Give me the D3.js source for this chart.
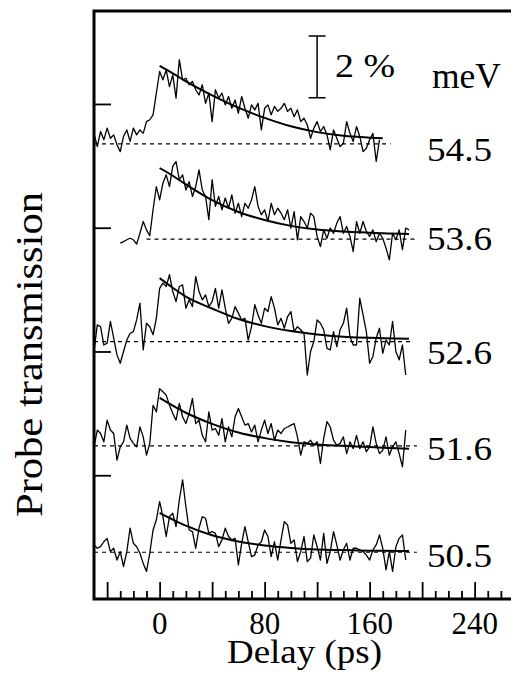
<!DOCTYPE html>
<html>
<head>
<meta charset="utf-8">
<script src="https://cdn.jsdelivr.net/npm/d3@7"></script>
<style>
  body { margin: 0; background: #fff; }
  svg { display: block; }
  text { font-family: "Liberation Serif", "Times New Roman", serif; fill: #000; }
</style>
</head>
<body>
<script>
// delay grid (ps) shared by every trace
const delays = [-50,-47.5,-45,-42.5,-40,-37.5,-35,-32.5,-30,-27.5,-25,-22.5,-20,-17.5,-15,-12.5,-10,-7.5,-5,-2.5,
  0,2.5,5,7.5,10,12.5,15,17.5,20,22.5,25,27.5,30,32.5,35,37.5,40,42.5,45,47.5,
  50,52.5,55,57.5,60,62.5,65,67.5,70,72.5,75,77.5,80,82.5,85,87.5,90,92.5,95,97.5,
  100,102.5,105,107.5,110,112.5,115,117.5,120,122.5,125,127.5,130,132.5,135,137.5,140,142.5,145,147.5,
  150,152.5,155,157.5,160,162.5,165,167.5,170,172.5,175,177.5,180,182.5,185,187.5,190];

const energies = ["54.5", "53.6", "52.6", "51.6", "50.5"];
// vertical offset of each trace (in %)
const offsets = [14.71, 11.63, 8.32, 4.95, 1.51];
// dashed zero line extent (ps)
const baseStart = [-50, -10, -50, -50, -50];
const baseEnd = [176, 196, 192, 196, 196];

// transmission change (%) above each zero line
const trace545 = [0.34,-0.09,0.40,0.13,0.51,0.18,0.29,-0.03,-0.25,0.24,
  0.45,0.08,0.51,0.29,0.45,0.34,0.72,0.78,0.94,1.64,
  2.34,2.07,2.39,1.85,2.23,1.48,2.72,2.07,2.12,1.91,
  2.02,1.75,1.58,1.91,1.31,1.64,0.72,1.75,1.48,1.64,
  1.26,1.53,1.15,1.42,0.99,1.53,1.15,0.83,1.26,1.10,
  1.31,0.45,1.15,1.26,0.94,1.21,1.05,1.15,1.31,1.05,
  1.15,0.88,1.10,0.72,0.83,0.61,0.18,0.51,0.72,0.40,
  0.56,0.29,-0.19,0.45,0.18,-0.09,0.02,0.72,0.34,0.08,
  0.56,0.24,-0.25,-0.14,0.13,0.34,-0.57,0.13];

const trace536 = [null,null,null,null,null,null,null,null,-0.13,
  -0.08,-0.02,0.03,-0.02,-0.16,0.19,0.57,0.30,0.11,0.95,
  1.70,1.27,1.81,2.08,1.70,2.35,2.51,1.92,2.08,1.59,
  1.86,1.38,1.70,2.24,1.59,1.38,0.63,1.92,1.06,1.38,
  0.95,1.33,1.00,1.43,0.84,1.16,0.73,1.16,1.00,1.27,
  1.70,1.06,0.79,0.95,0.57,1.16,0.79,1.00,0.84,0.63,
  0.95,0.36,0.89,-0.02,0.73,0.57,0.36,0.84,0.73,0.09,
  -0.24,0.30,0.03,0.36,0.19,0.52,0.73,0.19,0.41,0.09,
  -0.40,0.57,0.19,0.57,0.25,0.09,0.30,-0.08,0.19,0.03,
  -0.29,-0.67,0.19,-0.02,0.30,-0.34,0.36,0.30];

const trace526 = [-0.32,0.54,0.48,-0.11,-0.05,0.65,0.11,-0.43,-0.70,-0.32,
  0.05,0.27,0.32,0.70,1.24,-0.27,0.59,0.48,0.22,0.75,
  1.72,1.89,1.78,2.16,1.62,1.29,1.78,1.83,1.08,1.35,
  1.13,2.10,1.62,1.35,1.51,1.13,1.29,1.72,1.08,1.67,
  1.08,0.59,0.75,1.13,0.92,0.70,0.75,0.05,0.48,1.19,
  0.86,0.59,1.08,0.97,1.45,1.08,0.54,0.75,0.43,0.81,
  0.97,0.32,0.48,0.38,0.27,-1.08,-0.32,0.00,0.70,0.59,
  0.38,-0.22,-0.27,0.32,-0.16,0.38,0.59,1.08,0.16,-0.11,
  -0.11,1.40,0.86,0.32,-0.70,-0.48,0.11,0.43,-0.38,0.05,
  -0.11,0.65,-0.32,-0.59,-0.11,-1.08];

const trace516 = [-0.03,0.51,0.40,0.13,0.83,0.51,0.40,-0.46,-0.03,0.13,
  0.67,0.24,0.08,-0.03,0.61,0.29,-0.30,0.08,1.31,1.10,
  1.85,1.75,1.64,1.31,1.05,0.83,1.37,0.94,0.72,1.05,
  1.53,0.72,0.83,0.34,0.13,1.10,0.51,0.56,0.34,0.88,
  0.13,0.61,0.29,0.94,1.21,0.94,0.67,0.72,0.45,0.67,
  0.13,0.51,0.83,0.40,0.72,0.18,0.51,0.40,0.56,0.61,
  0.67,0.72,0.29,-0.30,0.13,0.08,0.18,0.02,0.13,-0.57,
  0.24,0.78,0.61,0.18,0.02,0.08,0.29,-0.25,0.13,-0.09,
  0.34,-0.09,0.13,-0.19,-0.03,0.61,0.08,-0.25,-0.14,0.29,
  -0.30,-0.03,0.13,-0.25,-0.68,0.51];

const trace505 = [0.24,0.13,0.18,0.34,0.45,0.02,0.13,-0.25,0.02,-0.46,
  0.02,0.78,0.29,0.18,-0.03,-0.36,-0.62,-0.03,0.72,1.05,
  1.64,1.15,0.51,1.15,1.26,0.83,1.69,2.34,1.48,0.72,
  0.67,0.13,0.78,1.15,1.10,0.61,0.67,0.61,0.18,0.40,
  0.78,0.51,0.40,0.45,-0.41,0.29,0.83,0.34,-0.14,-0.09,
  0.24,0.34,0.72,0.51,-0.14,0.34,-0.25,0.40,0.99,0.88,
  0.29,0.40,-0.30,0.02,0.51,-0.30,-0.19,0.56,0.18,-0.25,
  0.61,-0.36,0.02,0.67,0.24,-0.25,0.08,0.29,-0.25,0.13,
  0.13,0.08,0.02,-0.09,-0.25,0.08,0.24,0.56,0.13,-0.57,
  0.02,-0.62,0.18,0.45,0.56,-0.25];

// decay fits, read at these delays
const fitDelays = [0, 10, 20, 40, 60, 80, 100, 120, 140, 160, 170, 190];
const fit545 = [2.52,2.28,2.02,1.57,1.17,0.84,0.57,0.38,0.26,0.20,0.18,null];
const fit536 = [2.30,2.05,1.77,1.26,0.88,0.62,0.43,0.31,0.25,0.21,0.19,0.17];
const fit526 = [2.05,1.74,1.45,1.07,0.73,0.50,0.34,0.23,0.16,0.12,0.11,0.09];
const fit516 = [1.55,1.30,1.07,0.71,0.43,0.25,0.12,0.04,0.00,-0.04,-0.06,-0.09];
const fit505 = [1.27,1.06,0.86,0.55,0.35,0.22,0.14,0.09,0.07,0.05,0.05,0.04];

const traces = [trace545, trace536, trace526, trace516, trace505];
const fits = [fit545, fit536, fit526, fit516, fit505];

const majorTicks = [-40, 0, 40, 80, 120, 160, 200, 240];
const tickLabels = [0, 80, 160, 240];
const minorTicks = [-30,-20,-10,10,20,30,50,60,70,90,100,110,130,140,150,170,180,190,210,220,230,250,260];
const yTicks = [4, 8, 12, 16];

const width = 511, height = 683;
const plotLeft = 94, plotTop = 11, plotBottom = 599;

const x = d3.scaleLinear().domain([-50, 270]).range([plotLeft, plotLeft + 320 * 1.3125]);
const y = d3.scaleLinear().domain([0, 19]).range([plotBottom, plotBottom - 19 * 30.94]);

const svg = d3.select("body").append("svg")
    .attr("width", width)
    .attr("height", height);

// inward ticks
svg.append("g")
    .attr("transform", "translate(0," + plotBottom + ")")
    .call(d3.axisBottom(x).tickValues(minorTicks).tickSize(-8).tickFormat(""))
    .call(g => g.select(".domain").remove())
    .call(g => g.selectAll("line").attr("stroke-width", 1.8));

svg.append("g")
    .attr("transform", "translate(0," + plotBottom + ")")
    .call(d3.axisBottom(x).tickValues(majorTicks).tickSize(-17).tickFormat(""))
    .call(g => g.select(".domain").remove())
    .call(g => g.selectAll("line").attr("stroke-width", 1.8));

svg.append("g")
    .attr("transform", "translate(" + plotLeft + ",0)")
    .call(d3.axisLeft(y).tickValues(yTicks).tickSize(-17).tickFormat(""))
    .call(g => g.select(".domain").remove())
    .call(g => g.selectAll("line").attr("stroke-width", 1.8));

// frame (left, top, bottom)
svg.append("path")
    .attr("d", "M" + width + "," + plotTop + "H" + plotLeft + "V" + plotBottom + "H" + width)
    .attr("fill", "none")
    .attr("stroke", "#000")
    .attr("stroke-width", 3);

// tick labels
svg.selectAll(".tlab").data(tickLabels).join("text")
    .attr("class", "tlab")
    .attr("x", d => x(d))
    .attr("y", 634)
    .attr("text-anchor", "middle")
    .attr("font-size", 31)
    .text(d => d);

svg.append("text")
    .attr("x", 227).attr("y", 663)
    .attr("font-size", 34)
    .attr("textLength", 155).attr("lengthAdjust", "spacingAndGlyphs")
    .text("Delay (ps)");

svg.append("text")
    .attr("transform", "translate(41.5,517) rotate(-90)")
    .attr("font-size", 38)
    .attr("textLength", 325).attr("lengthAdjust", "spacingAndGlyphs")
    .text("Probe transmission");

const line = d3.line()
    .defined(d => d[1] != null)
    .x(d => x(d[0]))
    .y(d => y(d[1]));

const fitLine = d3.line()
    .defined(d => d[1] != null)
    .x(d => x(d[0]))
    .y(d => y(d[1]))
    .curve(d3.curveMonotoneX);

const labelY = [160.7, 250, 364, 460, 566.7];

energies.forEach(function(e, k) {
    var off = offsets[k];

    svg.append("line")
        .attr("x1", x(baseStart[k])).attr("x2", x(baseEnd[k]))
        .attr("y1", y(off)).attr("y2", y(off))
        .attr("stroke", "#000")
        .attr("stroke-width", 1.1)
        .attr("stroke-dasharray", "4,4");

    var pts = delays.map((t, i) => [t, traces[k][i] == null ? null : traces[k][i] + off]);
    svg.append("path")
        .attr("d", line(pts))
        .attr("fill", "none")
        .attr("stroke", "#000")
        .attr("stroke-width", 1.3)
        .attr("stroke-linejoin", "round");

    var fpts = fitDelays.map((t, i) => [t, fits[k][i] == null ? null : fits[k][i] + off]);
    svg.append("path")
        .attr("d", fitLine(fpts))
        .attr("fill", "none")
        .attr("stroke", "#000")
        .attr("stroke-width", 2);

    svg.append("text")
        .attr("x", 427).attr("y", labelY[k])
        .attr("font-size", 33)
        .attr("textLength", 65).attr("lengthAdjust", "spacingAndGlyphs")
        .text(e);
});

// 2 % scale bar
const barDelay = 120, barBase = 16.2, barSize = 2;
svg.append("path")
    .attr("d", "M" + (x(barDelay) - 8.5) + "," + y(barBase + barSize) + "h17" +
               "M" + x(barDelay) + "," + y(barBase + barSize) + "V" + y(barBase) +
               "M" + (x(barDelay) - 8.5) + "," + y(barBase) + "h17")
    .attr("fill", "none")
    .attr("stroke", "#000")
    .attr("stroke-width", 1.5);

svg.append("text")
    .attr("x", 335).attr("y", 77)
    .attr("font-size", 33)
    .attr("textLength", 60).attr("lengthAdjust", "spacingAndGlyphs")
    .text("2 %");

svg.append("text")
    .attr("x", 432).attr("y", 88)
    .attr("font-size", 35)
    .attr("textLength", 69).attr("lengthAdjust", "spacingAndGlyphs")
    .text("meV");
</script>
</body>
</html>
